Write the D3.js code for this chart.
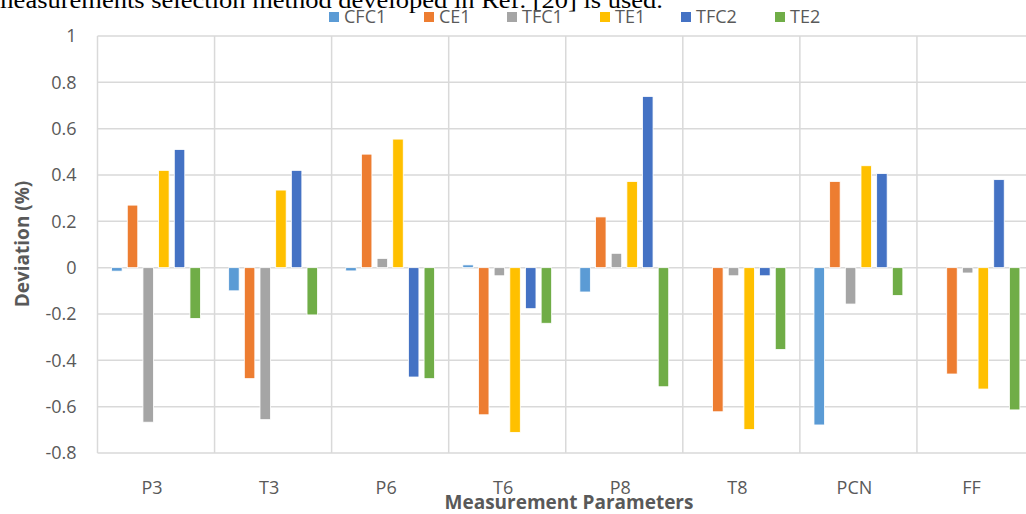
<!DOCTYPE html>
<html>
<head>
<meta charset="utf-8">
<script src="https://cdn.jsdelivr.net/npm/d3@7"></script>
<style>
  body { margin: 0; background: #fff; }
  svg { display: block; }
  .tick text, .legend text, .cat-label { font-family: "Open Sans", sans-serif; fill: #595959; }
  .axis-title { font-family: "Open Sans", sans-serif; font-weight: bold; fill: #595959; }
</style>
</head>
<body>
<svg id="chart" width="1026" height="514"></svg>
<script>
// categories on the x axis
const categories = ["P3", "T3", "P6", "T6", "P8", "T8", "PCN", "FF"];

// one array per series, in category order
const series = ["CFC1", "CE1", "TFC1", "TE1", "TFC2", "TE2"];
const CFC1 = [-0.015, -0.10, -0.014, 0.012, -0.105, 0, -0.679, 0];
const CE1  = [0.27, -0.479, 0.49, -0.635, 0.219, -0.622, 0.372, -0.459];
const TFC1 = [-0.667, -0.656, 0.04, -0.035, 0.062, -0.035, -0.157, -0.023];
const TE1  = [0.42, 0.335, 0.555, -0.711, 0.372, -0.699, 0.44, -0.524];
const TFC2 = [0.51, 0.42, -0.472, -0.177, 0.739, -0.035, 0.406, 0.38];
const TE2  = [-0.219, -0.204, -0.479, -0.24, -0.514, -0.353, -0.12, -0.614];
const values = { CFC1, CE1, TFC1, TE1, TFC2, TE2 };

const yTicks = [-0.8, -0.6, -0.4, -0.2, 0, 0.2, 0.4, 0.6, 0.8, 1];

const colors = ["#5B9BD5", "#ED7D31", "#A5A5A5", "#FFC000", "#4472C4", "#70AD47"];

const svg = d3.select('#chart');
const width = +svg.attr('width');
const height = +svg.attr('height');

const margin = { top: 36, left: 97.5, right: -8, bottom: 61 };

const x0 = d3.scaleBand()
  .domain(categories)
  .range([margin.left, width - margin.right])
  .padding(0);

const x1 = d3.scaleBand()
  .domain(series)
  .range([0, x0.bandwidth()])
  .paddingInner(0.33)
  .paddingOuter(0.9);

const y = d3.scaleLinear()
  .domain([-0.8, 1])
  .range([height - margin.bottom, margin.top]);

const color = d3.scaleOrdinal().domain(series).range(colors);

// top line of running text cut off above the chart
svg.append('text')
  .attr('x', -7)
  .attr('y', 8)
  .attr('textLength', 670)
  .attr('lengthAdjust', 'spacingAndGlyphs')
  .style('font-family', '"Liberation Serif", "Times New Roman", serif')
  .style('font-size', '23px')
  .style('fill', '#000')
  .text('measurements selection method developed in Ref. [20] is used.');

// horizontal grid
const grid = svg.append('g');
grid.selectAll('line.h')
  .data(yTicks)
  .join('line')
  .attr('class', 'h')
  .attr('x1', margin.left)
  .attr('x2', width)
  .attr('y1', d => y(d))
  .attr('y2', d => y(d))
  .attr('stroke', '#d9d9d9')
  .attr('stroke-width', 1.5);

// vertical separators between categories
const bounds = categories.map(c => x0(c)).concat([x0(categories[categories.length - 1]) + x0.bandwidth()]);
grid.selectAll('line.v')
  .data(bounds)
  .join('line')
  .attr('class', 'v')
  .attr('x1', d => d)
  .attr('x2', d => d)
  .attr('y1', y(1))
  .attr('y2', y(-0.8))
  .attr('stroke', '#d9d9d9')
  .attr('stroke-width', 1.5);

// y axis labels
const yAxis = d3.axisLeft(y)
  .tickValues(yTicks)
  .tickSize(0)
  .tickPadding(21)
  .tickFormat(d => d3.format('~g')(d).replace('−', '-'));

const yAxisG = svg.append('g')
  .attr('transform', `translate(${margin.left},0)`)
  .call(yAxis);
yAxisG.select('.domain').remove();
yAxisG.selectAll('.tick text').style('font-size', '18px');

// bars
const groups = svg.append('g')
  .selectAll('g')
  .data(categories)
  .join('g')
  .attr('transform', d => `translate(${x0(d)},0)`);

groups.selectAll('rect')
  .data((c, i) => series.map(s => ({ key: s, value: values[s][i] })))
  .join('rect')
  .filter(d => d.value !== 0)
  .attr('x', d => x1(d.key))
  .attr('width', x1.bandwidth())
  .attr('y', d => y(Math.max(0, d.value)))
  .attr('height', d => Math.abs(y(d.value) - y(0)))
  .attr('fill', d => color(d.key))
  .attr('stroke', '#fff')
  .attr('stroke-width', 0.8);

// category labels
svg.append('g')
  .selectAll('text')
  .data(categories)
  .join('text')
  .attr('class', 'cat-label')
  .attr('x', d => x0(d) + x0.bandwidth() / 2 - 4)
  .attr('y', 494)
  .attr('text-anchor', 'middle')
  .style('font-size', '18px')
  .text(d => d);

// axis titles
svg.append('text')
  .attr('class', 'axis-title')
  .attr('x', 569)
  .attr('y', 509)
  .attr('text-anchor', 'middle')
  .style('font-size', '19px')
  .text('Measurement Parameters');

svg.append('text')
  .attr('class', 'axis-title')
  .attr('transform', 'translate(29,244) rotate(-90)')
  .attr('text-anchor', 'middle')
  .style('font-size', '19px')
  .text('Deviation (%)');

// legend
const legendX = [329, 424, 507, 600, 681, 775];
const legend = svg.append('g').attr('class', 'legend')
  .selectAll('g')
  .data(series)
  .join('g')
  .attr('transform', (d, i) => `translate(${legendX[i]},12)`);

legend.append('rect')
  .attr('width', 10)
  .attr('height', 10)
  .attr('fill', d => color(d));

legend.append('text')
  .attr('x', 15)
  .attr('y', 11)
  .style('font-size', '18px')
  .text(d => d);
</script>
</body>
</html>
